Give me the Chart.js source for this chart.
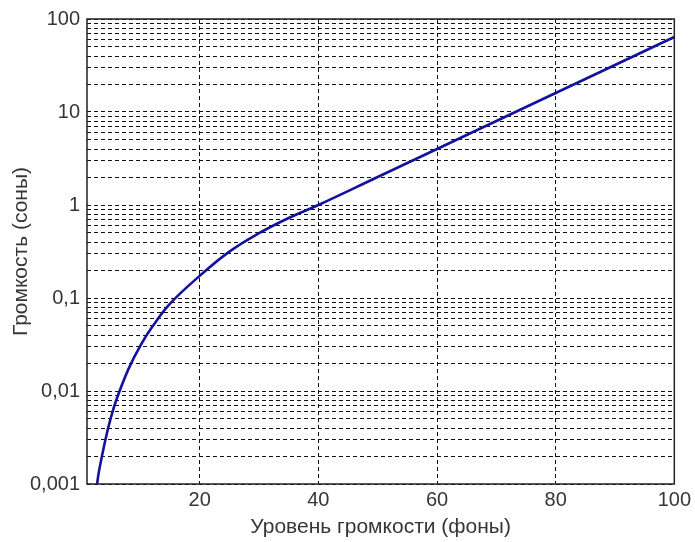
<!DOCTYPE html>
<html>
<head>
<meta charset="utf-8">
<script src="https://cdn.jsdelivr.net/npm/chart.js@4"></script>
<style>
  html, body { margin: 0; padding: 0; background: #fff; }
  #wrap { width: 695px; height: 542px; }
</style>
</head>
<body>
<div id="wrap"><canvas id="loudness"></canvas></div>
<script>
// ---------- data ----------
const phons = [2.7, 3, 4, 5, 6, 8, 10, 12, 15, 20, 25, 30, 35, 40, 50, 60, 70, 80, 90, 100];
const sones = [0.001, 0.00135, 0.0028, 0.0051, 0.0082, 0.0173, 0.0308, 0.049, 0.087, 0.173, 0.315, 0.497, 0.724, 1, 2, 4, 8, 16, 32, 64];

const xTicks = [20, 40, 60, 80, 100];
const yDecades = [0.001, 0.01, 0.1, 1, 10, 100];
const yTickLabels = ["0,001", "0,01", "0,1", "1", "10", "100"];

const FONT = "'Liberation Sans', Arial, sans-serif";
const TEXT = "#363636";

// ---------- box around plot area (MATLAB style) ----------
const boxPlugin = {
  id: "box",
  afterDatasetsDraw(chart) {
    const { ctx, chartArea: a } = chart;
    ctx.save();
    ctx.strokeStyle = "#222";
    ctx.lineWidth = 1.5;
    ctx.strokeRect(a.left, a.top, a.right - a.left, a.bottom - a.top);
    ctx.restore();
  },
};

new Chart(document.getElementById("loudness"), {
  type: "line",
  data: {
    datasets: [
      {
        data: phons.map((p, i) => ({ x: p, y: sones[i] })),
        borderColor: "#12129c",
        borderWidth: 2.6,
        pointRadius: 0,
        tension: 0.4,
        fill: false,
      },
    ],
  },
  options: {
    responsive: true,
    maintainAspectRatio: false,
    animation: false,
    layout: { padding: { top: 18, right: 17, left: 0, bottom: 0 } },
    plugins: { legend: { display: false }, tooltip: { enabled: false } },
    scales: {
      x: {
        type: "linear",
        min: 1,
        max: 100,
        afterBuildTicks: (s) => { s.ticks = xTicks.map((v) => ({ value: v })); },
        afterFit: (s) => { s.height = 58; },
        ticks: {
          autoSkip: false,
          maxRotation: 0,
          padding: 4,
          color: TEXT,
          font: { family: FONT, size: 20 },
        },
        grid: {
          color: "#111",
          lineWidth: 1,
          drawTicks: false,
        },
        border: { display: false, dash: [4, 3] },
        title: {
          display: true,
          text: "Уровень громкости (фоны)",
          color: TEXT,
          font: { family: FONT, size: 21 },
          padding: { top: 0, bottom: 2 },
        },
      },
      y: {
        type: "logarithmic",
        min: 0.001,
        max: 100,
        afterBuildTicks: (s) => {
          const t = [];
          yDecades.forEach((d, i) => {
            if (i === yDecades.length - 1) { t.push({ value: d }); return; }
            for (let m = 1; m < 10; m++) t.push({ value: +(d * m).toPrecision(3) });
          });
          s.ticks = t;
        },
        afterFit: (s) => { s.width = 87; },
        ticks: {
          autoSkip: false,
          padding: 7,
          color: TEXT,
          font: { family: FONT, size: 20 },
          callback: (v) => {
            const i = yDecades.findIndex((d) => Math.abs(d - v) < d * 1e-6);
            return i >= 0 ? yTickLabels[i] : "";
          },
        },
        grid: {
          color: "#111",
          lineWidth: 1,
          drawTicks: false,
        },
        border: { display: false, dash: [4, 3] },
        title: {
          display: true,
          text: "Громкость (соны)",
          color: TEXT,
          font: { family: FONT, size: 21 },
          padding: { top: 9, bottom: 9 },
        },
      },
    },
  },
  plugins: [boxPlugin],
});
</script>
</body>
</html>
